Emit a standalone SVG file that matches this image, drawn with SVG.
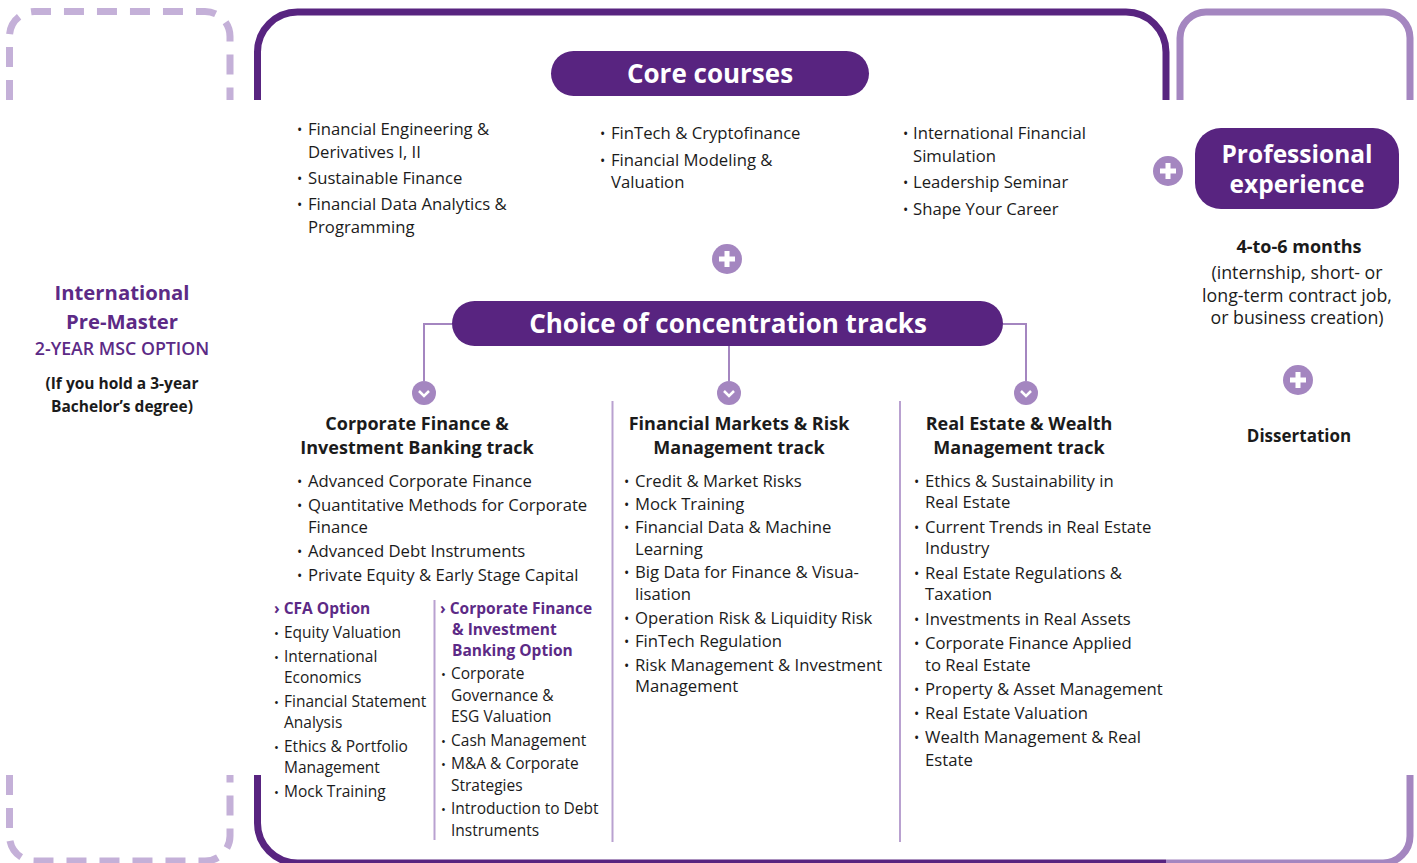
<svg xmlns="http://www.w3.org/2000/svg" width="1417" height="863" viewBox="0 0 1417 863">
<defs>
<style>
text{font-family:"Open Sans","Liberation Sans",sans-serif;fill:#1b1b1b}
.b{font-size:16.7px}
.s{font-size:15.5px}
.d{font-size:14px}
.h{font-size:18px;font-weight:700;text-anchor:middle}
.pw{font-size:26px;font-weight:700;fill:#fff;text-anchor:middle}
.pur{fill:#5c2a86;font-weight:700}
.frame{fill:none;stroke:#582480;stroke-width:7}
.frame2{fill:none;stroke:#a486c0;stroke-width:7}
.dash{fill:none;stroke:#c4b0d8;stroke-width:7;stroke-dasharray:20 13}
.sep{stroke:#b9a1d0;stroke-width:2;fill:none}
.con{stroke:#a486c0;stroke-width:2;fill:none}
.ic{fill:#a486c0}
.pill{fill:#582480}
</style>
<g id="plus"><circle r="15" class="ic"/><rect x="-8" y="-2.5" width="16" height="5" fill="#fff"/><rect x="-2.5" y="-8" width="5" height="16" fill="#fff"/></g>
<g id="chev"><ellipse rx="12" ry="12" class="ic"/><polyline points="-5,-2 0,3 5,-2" fill="none" stroke="#fff" stroke-width="2.5"/></g>
</defs>

<g id="frames">
<path class="dash" d="M9.5,100 V36 A25,25 0 0 1 34.5,11.5 H205 A25,25 0 0 1 230,36.5 V100"/>
<path class="dash" d="M9.5,775 V836 A25,25 0 0 0 34.5,861 H205 A25,25 0 0 0 230,836 V775"/>
<path class="frame" d="M257.5,100 V52 A40,40 0 0 1 297.5,12 H1126 A40,40 0 0 1 1166,52 V100"/>
<path class="frame2" d="M1180,100 V38 A26,26 0 0 1 1206,12 H1384 A26,26 0 0 1 1410,38 V100"/>
<path class="frame" d="M257.5,775 V823 A40,40 0 0 0 297.5,863 H1166"/>
<path class="frame2" d="M1166,863 H1383 A27,27 0 0 0 1410,836 V775"/>
</g>

<g id="connectors">
<path class="con" d="M452,324 H424 V381"/>
<path class="con" d="M1003,324 H1026 V381"/>
<path class="con" d="M729,346 V381"/>
<path class="sep" d="M612.5,401 V842"/>
<path class="sep" d="M900,401 V842"/>
<path class="sep" d="M434.5,600 V840"/>
</g>

<g id="premaster">
<text x="122" y="300" text-anchor="middle" class="pur" style="font-size:20.3px">International</text>
<text x="122" y="329" text-anchor="middle" class="pur" style="font-size:20.3px">Pre-Master</text>
<text x="122" y="355" text-anchor="middle" style="font-size:17.8px;fill:#5c2a86;font-weight:600">2-YEAR MSC OPTION</text>
<text x="122" y="389" text-anchor="middle" style="font-size:15.5px;font-weight:700">(If you hold a 3-year</text>
<text x="122" y="412" text-anchor="middle" style="font-size:15.5px;font-weight:700">Bachelor’s degree)</text>
</g>

<g id="core">
<rect class="pill" x="551" y="51" width="318" height="45" rx="22.5"/>
<text class="pw" x="710" y="83">Core courses</text>
</g>

<g id="core-list">
<text class="b">
<tspan x="297" y="135" class="d">•</tspan><tspan x="308" y="135">Financial Engineering &amp;</tspan>
<tspan x="308" y="158">Derivatives I, II</tspan>
<tspan x="297" y="184" class="d">•</tspan><tspan x="308" y="184">Sustainable Finance</tspan>
<tspan x="297" y="210" class="d">•</tspan><tspan x="308" y="210">Financial Data Analytics &amp;</tspan>
<tspan x="308" y="233">Programming</tspan>
</text>
<text class="b">
<tspan x="600" y="139" class="d">•</tspan><tspan x="611" y="139">FinTech &amp; Cryptofinance</tspan>
<tspan x="600" y="166" class="d">•</tspan><tspan x="611" y="166">Financial Modeling &amp;</tspan>
<tspan x="611" y="188">Valuation</tspan>
</text>
<text class="b">
<tspan x="903" y="139" class="d">•</tspan><tspan x="913" y="139">International Financial</tspan>
<tspan x="913" y="162">Simulation</tspan>
<tspan x="903" y="188" class="d">•</tspan><tspan x="913" y="188">Leadership Seminar</tspan>
<tspan x="903" y="215" class="d">•</tspan><tspan x="913" y="215">Shape Your Career</tspan>
</text>
</g>

<g id="plus-core"><use href="#plus" x="727" y="259"/></g>
<g id="plus-pro"><use href="#plus" x="1168" y="171"/></g>
<g id="plus-diss"><use href="#plus" x="1298" y="380"/></g>

<g id="professional">
<rect class="pill" x="1195" y="128" width="204" height="81" rx="26"/>
<text class="pw" x="1297" y="163" style="font-size:24.5px">Professional</text>
<text class="pw" x="1297" y="193" style="font-size:24.5px">experience</text>
<text x="1299" y="253" text-anchor="middle" style="font-size:18px;font-weight:700">4-to-6 months</text>
<text x="1297" y="279" text-anchor="middle" style="font-size:17.8px">(internship, short- or</text>
<text x="1297" y="302" text-anchor="middle" style="font-size:17.8px">long-term contract job,</text>
<text x="1297" y="324" text-anchor="middle" style="font-size:17.8px">or business creation)</text>
</g>

<g id="dissertation">
<text x="1299" y="442" text-anchor="middle" style="font-size:17px;font-weight:700">Dissertation</text>
</g>

<g id="tracks">
<rect class="pill" x="452" y="301" width="551" height="45" rx="22.5"/>
<text class="pw" x="728" y="333">Choice of concentration tracks</text>
</g>

<g id="chevrons">
<use href="#chev" x="424" y="393"/>
<use href="#chev" x="729" y="393"/>
<use href="#chev" x="1026" y="393"/>
</g>

<g id="track1">
<text class="h" x="417" y="430">Corporate Finance &amp;</text>
<text class="h" x="417" y="454">Investment Banking track</text>
<text class="b">
<tspan x="297" y="487" class="d">•</tspan><tspan x="308" y="487">Advanced Corporate Finance</tspan>
<tspan x="297" y="511" class="d">•</tspan><tspan x="308" y="511">Quantitative Methods for Corporate</tspan>
<tspan x="308" y="533">Finance</tspan>
<tspan x="297" y="557" class="d">•</tspan><tspan x="308" y="557">Advanced Debt Instruments</tspan>
<tspan x="297" y="581" class="d">•</tspan><tspan x="308" y="581">Private Equity &amp; Early Stage Capital</tspan>
</text>
</g>

<g id="cfa-option">
<text class="s pur" x="274" y="614">› CFA Option</text>
<text class="s">
<tspan x="274" y="638" font-size="13">•</tspan><tspan x="284" y="638">Equity Valuation</tspan>
<tspan x="274" y="662" font-size="13">•</tspan><tspan x="284" y="662">International</tspan>
<tspan x="284" y="683">Economics</tspan>
<tspan x="274" y="707" font-size="13">•</tspan><tspan x="284" y="707">Financial Statement</tspan>
<tspan x="284" y="728">Analysis</tspan>
<tspan x="274" y="752" font-size="13">•</tspan><tspan x="284" y="752">Ethics &amp; Portfolio</tspan>
<tspan x="284" y="773">Management</tspan>
<tspan x="274" y="797" font-size="13">•</tspan><tspan x="284" y="797">Mock Training</tspan>
</text>
</g>

<g id="cfib-option">
<text class="s pur"><tspan x="440" y="614">› Corporate Finance</tspan><tspan x="452" y="635">&amp; Investment</tspan><tspan x="452" y="656">Banking Option</tspan></text>
<text class="s">
<tspan x="441" y="679" font-size="13">•</tspan><tspan x="451" y="679">Corporate</tspan>
<tspan x="451" y="701">Governance &amp;</tspan>
<tspan x="451" y="722">ESG Valuation</tspan>
<tspan x="441" y="746" font-size="13">•</tspan><tspan x="451" y="746">Cash Management</tspan>
<tspan x="441" y="769" font-size="13">•</tspan><tspan x="451" y="769">M&amp;A &amp; Corporate</tspan>
<tspan x="451" y="791">Strategies</tspan>
<tspan x="441" y="814" font-size="13">•</tspan><tspan x="451" y="814">Introduction to Debt</tspan>
<tspan x="451" y="836">Instruments</tspan>
</text>
</g>

<g id="track2">
<text class="h" x="739" y="430">Financial Markets &amp; Risk</text>
<text class="h" x="739" y="454">Management track</text>
<text class="b">
<tspan x="624" y="487" class="d">•</tspan><tspan x="635" y="487">Credit &amp; Market Risks</tspan>
<tspan x="624" y="510" class="d">•</tspan><tspan x="635" y="510">Mock Training</tspan>
<tspan x="624" y="533" class="d">•</tspan><tspan x="635" y="533">Financial Data &amp; Machine</tspan>
<tspan x="635" y="555">Learning</tspan>
<tspan x="624" y="578" class="d">•</tspan><tspan x="635" y="578">Big Data for Finance &amp; Visua-</tspan>
<tspan x="635" y="600">lisation</tspan>
<tspan x="624" y="624" class="d">•</tspan><tspan x="635" y="624">Operation Risk &amp; Liquidity Risk</tspan>
<tspan x="624" y="647" class="d">•</tspan><tspan x="635" y="647">FinTech Regulation</tspan>
<tspan x="624" y="671" class="d">•</tspan><tspan x="635" y="671">Risk Management &amp; Investment</tspan>
<tspan x="635" y="692">Management</tspan>
</text>
</g>

<g id="track3">
<text class="h" x="1019" y="430">Real Estate &amp; Wealth</text>
<text class="h" x="1019" y="454">Management track</text>
<text class="b">
<tspan x="914" y="487" class="d">•</tspan><tspan x="925" y="487">Ethics &amp; Sustainability in</tspan>
<tspan x="925" y="508">Real Estate</tspan>
<tspan x="914" y="533" class="d">•</tspan><tspan x="925" y="533">Current Trends in Real Estate</tspan>
<tspan x="925" y="554">Industry</tspan>
<tspan x="914" y="579" class="d">•</tspan><tspan x="925" y="579">Real Estate Regulations &amp;</tspan>
<tspan x="925" y="600">Taxation</tspan>
<tspan x="914" y="625" class="d">•</tspan><tspan x="925" y="625">Investments in Real Assets</tspan>
<tspan x="914" y="649" class="d">•</tspan><tspan x="925" y="649">Corporate Finance Applied</tspan>
<tspan x="925" y="671">to Real Estate</tspan>
<tspan x="914" y="695" class="d">•</tspan><tspan x="925" y="695">Property &amp; Asset Management</tspan>
<tspan x="914" y="719" class="d">•</tspan><tspan x="925" y="719">Real Estate Valuation</tspan>
<tspan x="914" y="743" class="d">•</tspan><tspan x="925" y="743">Wealth Management &amp; Real</tspan>
<tspan x="925" y="766">Estate</tspan>
</text>
</g>
</svg>
